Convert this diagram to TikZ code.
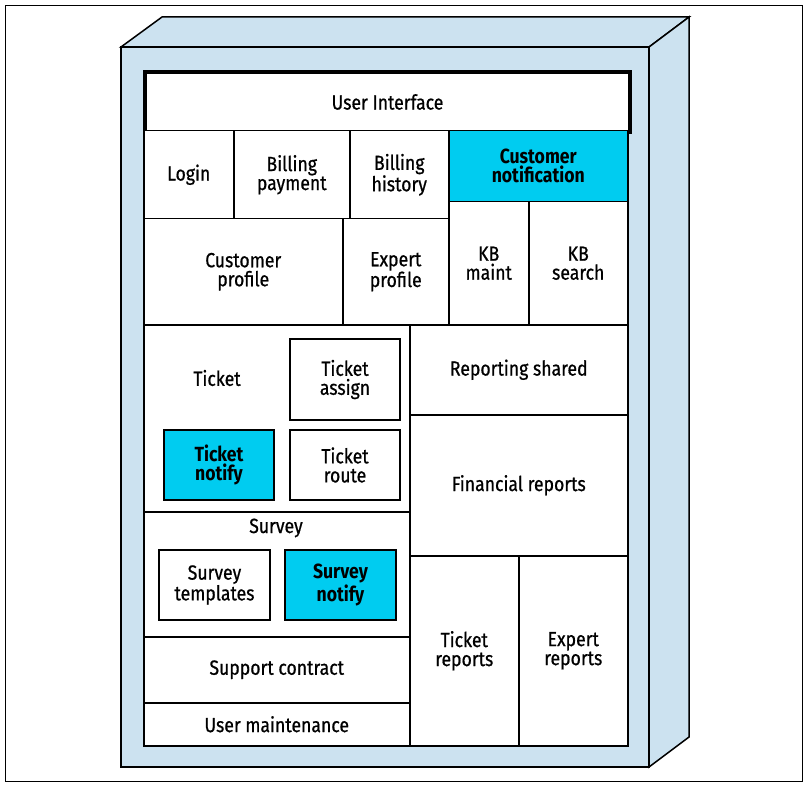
\documentclass[tikz,border=0pt]{standalone}
\usepackage{fontspec}
\setmainfont{Fira Sans}[FakeStretch=0.86, UprightFeatures={FakeBold=0.7}]
\definecolor{boxblue}{RGB}{204,226,240}
\definecolor{notecyan}{RGB}{0,204,240}
\tikzset{
  cell/.style 2 args={draw, fill=white, line width=1.5pt, anchor=north west, inner sep=0pt,
    minimum width=#1, minimum height=#2, align=center, font=\fontsize{20.5}{19}\selectfont},
  inner/.style={line width=2pt},
  notify/.style={fill=notecyan, font=\fontsize{20.5}{19}\selectfont\bfseries},
  lbl/.style={font=\fontsize{20.5}{19}\selectfont}
}
\begin{document}
\begin{tikzpicture}[x=1pt,y=-1pt]
        \useasboundingbox (0,0) rectangle (811,786);
        % frame
        \draw [line width=0.8pt] (5,5) rectangle (802,781);
        % box
        \filldraw [fill=boxblue, line width=1.5pt] (121,47) -- (162,17) -- (689,17) -- (649,47) -- cycle;
        \filldraw [fill=boxblue, line width=1.5pt] (649,47) -- (689,17) -- (689,737) -- (649,767) -- cycle;
        \filldraw [fill=boxblue, line width=1.5pt] (121,47) rectangle (649,767);
        % top rows
        \node [cell={485}{60}, line width=4pt] (ui) at (143,70) {User Interface};
        \node [cell={90}{88}] (login) at (143,130) {Login};
        \node [cell={116}{88}] (billpay) at (233,130) {Billing\\payment};
        \node [cell={99}{88}] (billhist) at (349,130) {Billing\\history};
        \node [cell={179}{71}, notify] (custnotif) at (448,130) {Customer\\notification};
        \node [cell={199}{106}] (custprof) at (143,218) {Customer\\profile};
        \node [cell={106}{106}] (expprof) at (342,218) {Expert\\profile};
        \node [cell={80}{123}] (kbmaint) at (448,201) {KB\\maint};
        \node [cell={99}{123}] (kbsearch) at (528,201) {KB\\search};
        % ticket and survey
        \node [cell={266}{187}] (ticket) at (143,324) {};
        \node [lbl] (ticketlbl) at (217,378) {Ticket};
        \node [cell={110}{81}, inner] (tassign) at (289,338) {Ticket\\assign};
        \node [cell={110}{70}, inner, notify] (tnotify) at (163,429) {Ticket\\notify};
        \node [cell={110}{70}, inner] (troute) at (289,429) {Ticket\\route};
        \node [cell={266}{125}] (survey) at (143,511) {};
        \node [lbl] (surveylbl) at (276,528) {Survey};
        \node [cell={111}{70}, inner] (stempl) at (158,549) {Survey\\templates};
        \node [cell={111}{70}, inner, notify] (snotify) at (284,549) {Survey\\notify};
        \node [cell={266}{66}] (support) at (143,636) {Support contract};
        \node [cell={266}{43}] (usermaint) at (143,702) {User maintenance};
        % reports
        \node [cell={218}{90}] (repshared) at (409,324) {Reporting shared};
        \node [cell={218}{141}] (finrep) at (409,414) {Financial reports};
        \node [cell={109}{190}] (ticketrep) at (409,555) {Ticket\\reports};
        \node [cell={109}{190}] (expertrep) at (518,555) {Expert\\reports};
\end{tikzpicture}
\end{document}
